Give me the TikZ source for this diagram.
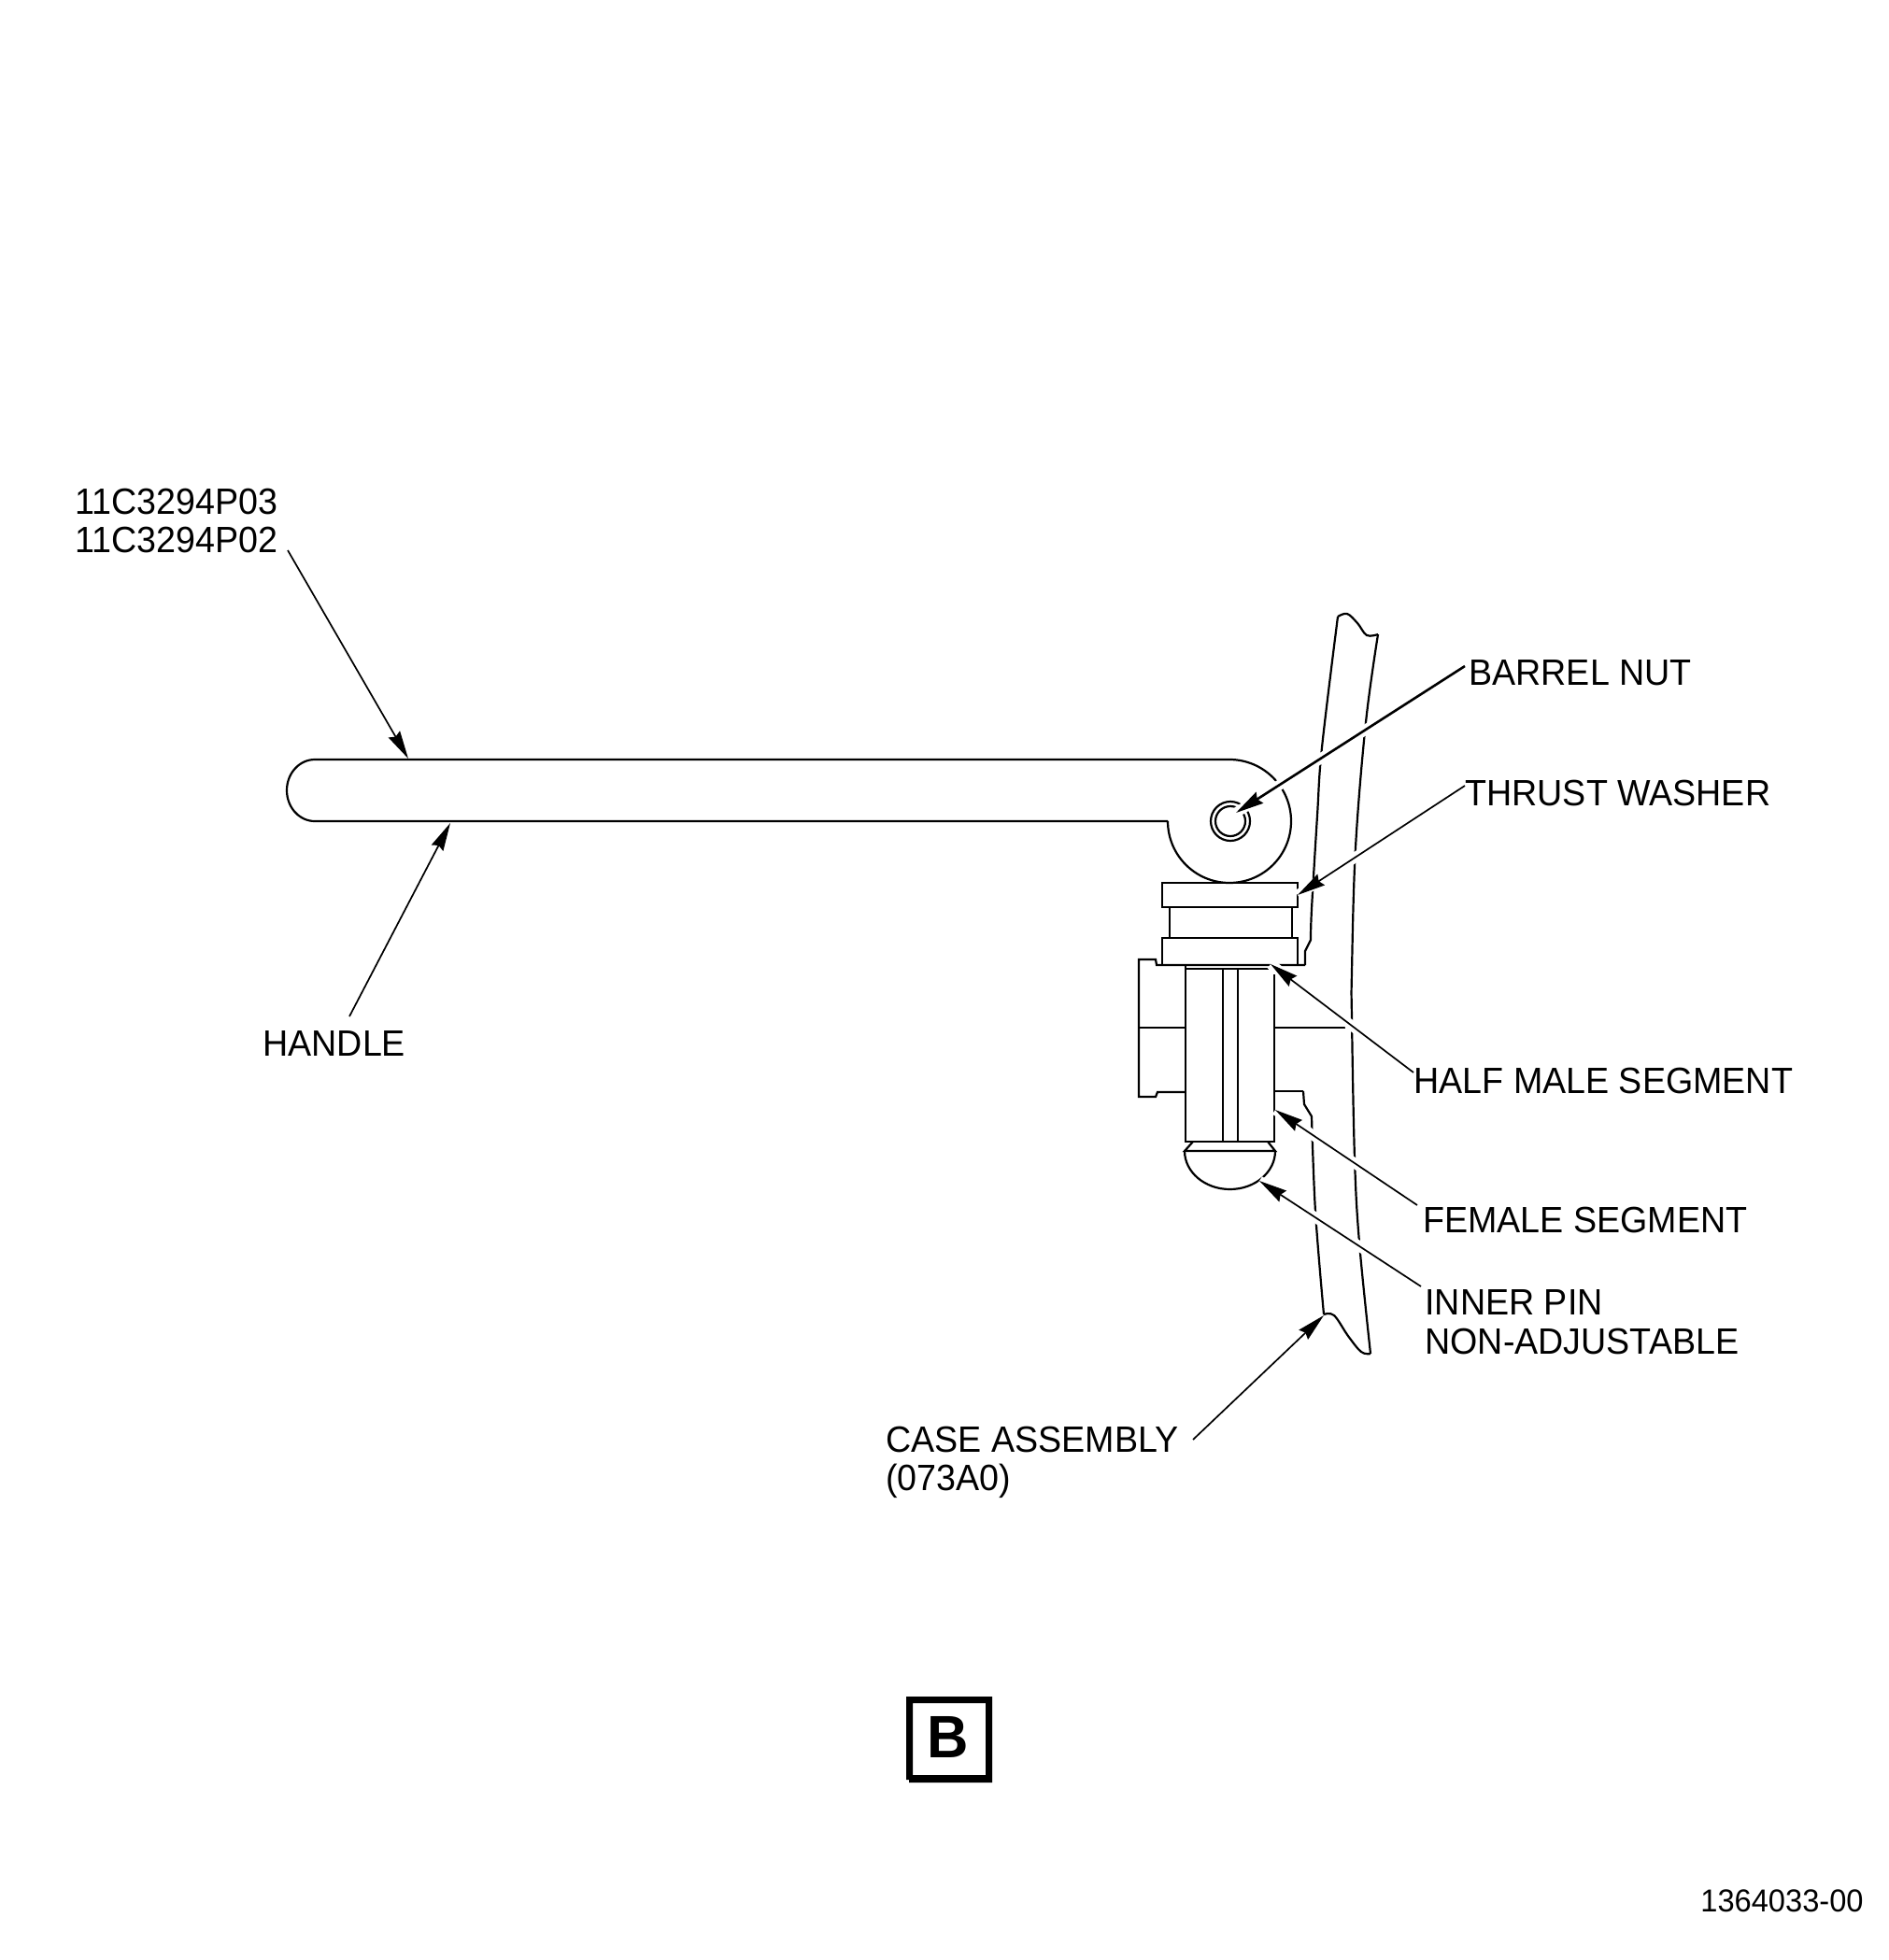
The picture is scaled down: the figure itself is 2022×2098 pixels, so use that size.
\documentclass[tikz,border=0pt]{standalone}
\usepackage{fontspec}
\setmainfont{Liberation Sans}[FakeStretch=0.96]
\usetikzlibrary{arrows.meta}
\tikzset{
  part/.style={line width=1.1pt,line join=miter},
  halo/.style={white,line width=5.5pt},
  leader/.style={line width=0.85pt,-{Stealth[length=15pt,width=7pt,inset=1.5pt]}},
  lbl/.style={anchor=base west,inner sep=0pt,font=\fontsize{19.6pt}{23pt}\selectfont},
  ref/.style={anchor=base east,inner sep=0pt,font=\fontsize{17pt}{20pt}\selectfont}
}
\begin{document}
\begin{tikzpicture}[x=0.5pt,y=-0.5pt]
\useasboundingbox[fill=white] (0,0) rectangle (2022,2098);
% case wall
\draw[part] (1395,1168) -- (1396,1182) -- (1404,1195)
  plot[smooth,tension=.6] coordinates {(1404,1195) (1408,1297) (1417,1407)};
\draw[part] (1397,1033) -- (1397,1018) -- (1403,1006)
  plot[smooth,tension=.6] coordinates {(1403,1006) (1404,973) (1410,873) (1415,800) (1432,660)};
\draw[part] plot[smooth,tension=.6] coordinates {(1432,660) (1442,657) (1453,667) (1463,680) (1475,679)};
\draw[part] plot[smooth,tension=.6] coordinates {(1475,679) (1462,773) (1451,907) (1447,1040) (1447,1090) (1450,1240) (1455,1330) (1467,1449)};
\draw[part] plot[smooth,tension=.6] coordinates {(1417,1407) (1428,1408) (1443,1430) (1457,1447) (1467,1449)};
% handle
\draw[part] (1250,879) -- (337,879) arc[start angle=-90,end angle=-270,x radius=15pt,y radius=16.5pt]
  -- (1316,813) arc[start angle=90,end angle=-180,radius=33pt];
\draw[part] (1317,879) circle[radius=10.5pt];
\draw[part] (1317,879) circle[radius=8pt];
% washers
\draw[part] (1244,945) rectangle (1389,971);
\draw[part] (1252,971) rectangle (1383,1004);
\draw[part] (1244,1004) rectangle (1389,1033);
% flange
\draw[part] (1397,1033) -- (1238,1033) -- (1237,1027) -- (1219,1027) -- (1219,1174) -- (1237,1174) -- (1239,1169) -- (1269,1169);
\draw[part] (1219,1100) -- (1269,1100);
\draw[part] (1364,1100) -- (1440,1100);
\draw[part] (1364,1168) -- (1395,1168);
% pin body
\draw[part] (1269,1033) -- (1269,1222) -- (1364,1222) -- (1364,1043);
\draw[part] (1269,1037) -- (1358,1037);
\draw[part] (1309,1037) -- (1309,1222);
\draw[part] (1325,1037) -- (1325,1222);
% pin head
\draw[part] (1277,1222) -- (1268,1232) -- (1365,1232) -- (1357,1222);
\draw[part] (1268,1232) arc[start angle=180,end angle=360,x radius=24.25pt,y radius=20.5pt];
% coordinates
\coordinate (tailA) at (308,589);   \coordinate (tipA) at (437,812);
\coordinate (tailB) at (374,1088);  \coordinate (tipB) at (482,881);
\coordinate (tailC) at (1568,713);  \coordinate (tipC) at (1323,870);
\coordinate (tailD) at (1568,841);  \coordinate (tipD) at (1389,958);
\coordinate (tailE) at (1513,1148); \coordinate (tipE) at (1360,1032);
\coordinate (tailF) at (1517,1290); \coordinate (tipF) at (1365,1188);
\coordinate (tailG) at (1521,1377); \coordinate (tipG) at (1348,1264);
\coordinate (tailH) at (1277,1541); \coordinate (tipH) at (1417,1408);
% halos where leaders cross the drawing
\foreach \s/\e in {tailC/tipC,tailD/tipD,tailE/tipE,tailF/tipF,tailG/tipG}
  \draw[halo] (\s) -- (\e);
% leaders
\draw[leader] (tailA) -- (tipA);
\draw[leader] (tailB) -- (tipB);
\draw[leader,line width=1.3pt] (tailC) -- (tipC);
\draw[leader] (tailD) -- (tipD);
\draw[leader] (tailE) -- (tipE);
\draw[leader] (tailF) -- (tipF);
\draw[leader] (tailG) -- (tipG);
\draw[leader] (tailH) -- (tipH);
% labels
\node[lbl] (pn1) at (80,550) {11C3294P03};
\node[lbl] (pn2) at (80,591) {11C3294P02};
\node[lbl] (handle) at (281,1130) {HANDLE};
\node[lbl] (barrel) at (1572,733) {BARREL NUT};
\node[lbl] (thrust) at (1568,862) {THRUST WASHER};
\node[lbl] (halfmale) at (1513,1170) {HALF MALE SEGMENT};
\node[lbl] (female) at (1523,1319) {FEMALE SEGMENT};
\node[lbl] (inner) at (1525,1407) {INNER PIN};
\node[lbl] (nonadj) at (1525,1449) {NON-ADJUSTABLE};
\node[lbl] (case) at (948,1554) {CASE ASSEMBLY};
\node[lbl] (casen) at (948,1595) {(073A0)};
% view box
\fill[even odd rule] (970,1816) -- (1062,1816) -- (1062,1908) -- (973,1908) -- (973,1905) -- (970,1905) -- cycle
  (977,1823) rectangle (1055,1900);
\node[anchor=base,inner sep=0pt,font=\fontsize{32pt}{36pt}\selectfont\bfseries] (viewB) at (1015,1881) {B};
\node[ref] (refno) at (1995,2046) {1364033-00};
\end{tikzpicture}
\end{document}
